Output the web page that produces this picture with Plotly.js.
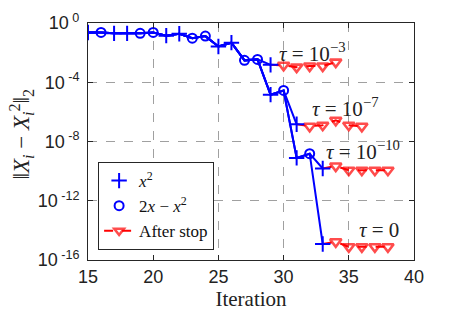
<!DOCTYPE html>
<html><head><meta charset="utf-8">
<script src="https://cdn.plot.ly/plotly-3.0.1.min.js"></script>
<style>html,body{margin:0;padding:0;background:#fff}#c{width:457px;height:318px}</style>
</head><body><div id="c"></div>
<script>
// shared iterations before the runs diverge
const iterBase = [15,16,17,18,19,20,21,22,23,24,25,26,27,28];
const errBase  = [0.23,0.23,0.2,0.2,0.2,0.23,0.14,0.19,0.095,0.13,0.026,0.047,0.003,0.0035];
// per-run continuations (tau = 1e-3, 1e-7, 1e-10, 0)
const run1Iter = [29];             const run1Err = [1.5e-3];
const run2Iter = [29,30,31];       const run2Err = [1.45e-5,2.8e-5,1.45e-7];
const run3Iter = [29,30,31,32,33]; const run3Err = [1.45e-5,2.8e-5,7.8e-10,1.5e-9,1.5e-10];
const run4Iter = [29,30,31,32,33]; const run4Err = [1.45e-5,2.8e-5,7.8e-10,1.5e-9,1.2e-15];
// after-stop values per run
const stop1Iter = [30,31,32,33,34]; const stop1Err = [1.4e-3,1.05e-3,1.25e-3,1.25e-3,2.3e-3];
const stop2Iter = [32,33,34,35,36]; const stop2Err = [1.07e-7,1.26e-7,2.7e-7,1.26e-7,1.07e-7];
const stop3Iter = [34,35,36,37,38]; const stop3Err = [2.2e-10,1.15e-10,1.15e-10,1.15e-10,1.15e-10];
const stop4Iter = [34,35,36,37,38]; const stop4Err = [1.7e-15,7.8e-16,7.8e-16,7.8e-16,7.8e-16];
// iterations whose marker is a circle (2x - x^2); others are + (x^2)
const circleIters = [16,19,20,23,24,27,28,30,32];
const tauLabels = ['<i>τ</i> = 10<sup>−3</sup>','<i>τ</i> = 10<sup>−7</sup>','<i>τ</i> = 10<sup>−10</sup>','<i>τ</i> = 0'];
const legendNames = ['<i>x</i><sup>2</sup>','2<i>x</i> − <i>x</i><sup>2</sup>','After stop'];
const yTickVals = [1e-16,1e-12,1e-8,1e-4,1];
const yTickText = ['10<sup> -16</sup>','10<sup> -12</sup>','10<sup> -8</sup>','10<sup> -4</sup>','10<sup> 0</sup>'];
const yTitle = '‖<i>X<sub>i</sub></i> − <i>X<sub>i</sub></i><sup>2</sup>‖<sub>2</sub>';

const BLUE='#0000ff', RED='#ff0000';
const runs = [[run1Iter,run1Err,stop1Iter,stop1Err],[run2Iter,run2Err,stop2Iter,stop2Err],
              [run3Iter,run3Err,stop3Iter,stop3Err],[run4Iter,run4Err,stop4Iter,stop4Err]];
const traces = [];
// red after-stop traces (drawn first)
runs.forEach((r,k)=>{
  const sx=[r[0][r[0].length-1]].concat(r[2]);
  const sy=[r[1][r[1].length-1]].concat(r[3]);
  traces.push({x:sx,y:sy,mode:'lines+markers',name:legendNames[2],showlegend:k===0,legendrank:3,
    line:{color:RED,width:2,dash:'dash'},
    marker:{symbol:'triangle-down-open',size:sx.map((v,i)=>i===0?0:10),color:RED,line:{color:RED,width:2.6}}});
});
// blue lines
const pts = {};
runs.forEach(r=>{
  const x=iterBase.concat(r[0]), y=errBase.concat(r[1]);
  traces.push({x:x,y:y,mode:'lines',showlegend:false,line:{color:BLUE,width:2}});
  x.forEach((v,i)=>{pts[v+'_'+y[i]]=[v,y[i]];});
});
const plusX=[],plusY=[],circX=[],circY=[];
Object.values(pts).forEach(p=>{
  if(circleIters.includes(p[0])){circX.push(p[0]);circY.push(p[1]);}
  else{plusX.push(p[0]);plusY.push(p[1]);}
});
traces.push({x:plusX,y:plusY,mode:'markers',name:legendNames[0],legendrank:1,
  marker:{symbol:'cross-thin-open',size:11,color:BLUE,line:{color:BLUE,width:2}}});
traces.push({x:circX,y:circY,mode:'markers',name:legendNames[1],legendrank:2,
  marker:{symbol:'circle-open',size:9,color:BLUE,line:{color:BLUE,width:2}}});

const annPos = [[32.25,-1.97],[34.78,-5.7],[36.09,-8.59],[37.32,-13.98]];
const annotations = tauLabels.map((t,i)=>({x:annPos[i][0],y:annPos[i][1],text:t,showarrow:false,
  xanchor:'center',yanchor:'middle',font:{family:'Liberation Serif',size:21,color:'#222'}}));
annotations.push({xref:'paper',yref:'paper',x:-0.205,y:0.53,text:yTitle,textangle:-90,showarrow:false,
  xanchor:'center',yanchor:'middle',borderpad:0,font:{family:'Liberation Serif',size:23,color:'#222'}});

const axCommon = {showline:true,linecolor:'#262626',linewidth:1,mirror:'ticks',ticks:'inside',ticklen:5,
  tickcolor:'#262626',showgrid:true,gridcolor:'#a0a0a0',griddash:'dash',gridwidth:1,zeroline:false,
  tickfont:{family:'Liberation Sans',size:18,color:'#222'}};
const layout = {
  width:457,height:318,margin:{l:88,r:43,t:23,b:58},paper_bgcolor:'#fff',plot_bgcolor:'#fff',
  xaxis:Object.assign({},axCommon,{range:[15,40],dtick:5,tick0:15,
    title:{text:'Iteration',font:{family:'Liberation Serif',size:21,color:'#222'},standoff:2}}),
  yaxis:Object.assign({},axCommon,{type:'log',range:[-16,0],tickvals:yTickVals,ticktext:yTickText,ticklabelstandoff:4}),
  legend:{x:0.031,y:0.042,xanchor:'left',yanchor:'bottom',bgcolor:'#fff',bordercolor:'#262626',borderwidth:1,
    font:{family:'Liberation Serif',size:17,color:'#111'},tracegroupgap:0},
  annotations:annotations,showlegend:true
};
Plotly.newPlot('c',traces,layout,{staticPlot:true});
</script></body></html>
